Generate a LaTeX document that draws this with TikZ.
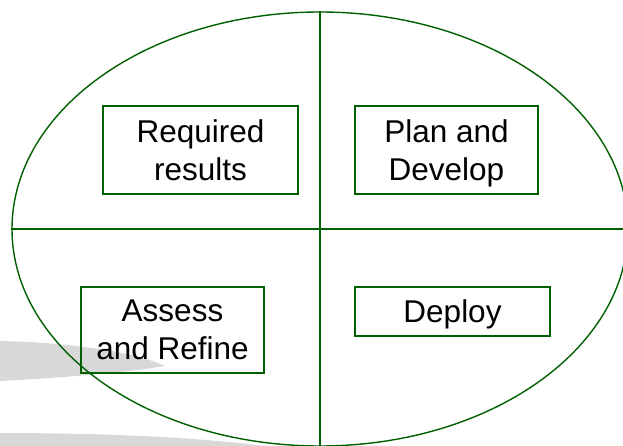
\documentclass[tikz,border=0pt]{standalone}
\usepackage{fontspec}
\setmainfont{Liberation Sans}
\usetikzlibrary{positioning}
\usetikzlibrary{shapes.geometric}

\definecolor{leafgreen}{RGB}{0,96,0}
\definecolor{swoosh}{RGB}{216,216,216}

\begin{document}
\begin{tikzpicture}[x=1pt,y=-1pt,
    quad/.style={draw=leafgreen,line width=1.6pt,rectangle,inner sep=0pt,
                 text depth=0pt,align=center,font=\fontsize{31.5}{38}\selectfont}]
   \useasboundingbox (0,0) rectangle (623,446);
   \clip (0,0) rectangle (623,446);
   % grey swoosh in the back
   \fill[swoosh] (0,341) .. controls (60,342) and (130,350) .. (165,366)
                 .. controls (130,372) and (60,378) .. (0,381) -- cycle;
   \fill[swoosh] (0,433) .. controls (100,433) and (200,437) .. (272,447) -- (0,447) -- cycle;
   % the cycle and its four quarters
   \node[draw=leafgreen, line width=1.4pt, ellipse, inner sep=0pt,
         minimum width=616pt, minimum height=434pt] (cyc) at (320,229) {};
   \draw[leafgreen, line width=1.6pt] (cyc.north) -- (cyc.south);
   \draw[leafgreen, line width=1.6pt] (cyc.west) -- (cyc.east);
   \node[quad, minimum width=195pt, minimum height=88pt] (q_req) at (200.5,150) {Required\\results};
   \node[quad, minimum width=183pt, minimum height=88pt] (q_plan) at (446.5,150) {Plan and\\Develop};
   \node[quad, minimum width=183pt, minimum height=86pt] (q_assess) at (172.5,330) {Assess\\and Refine};
   \node[quad, minimum width=195pt, minimum height=49pt] (q_deploy) at (452.5,311.5) {Deploy};
\end{tikzpicture}
\end{document}
